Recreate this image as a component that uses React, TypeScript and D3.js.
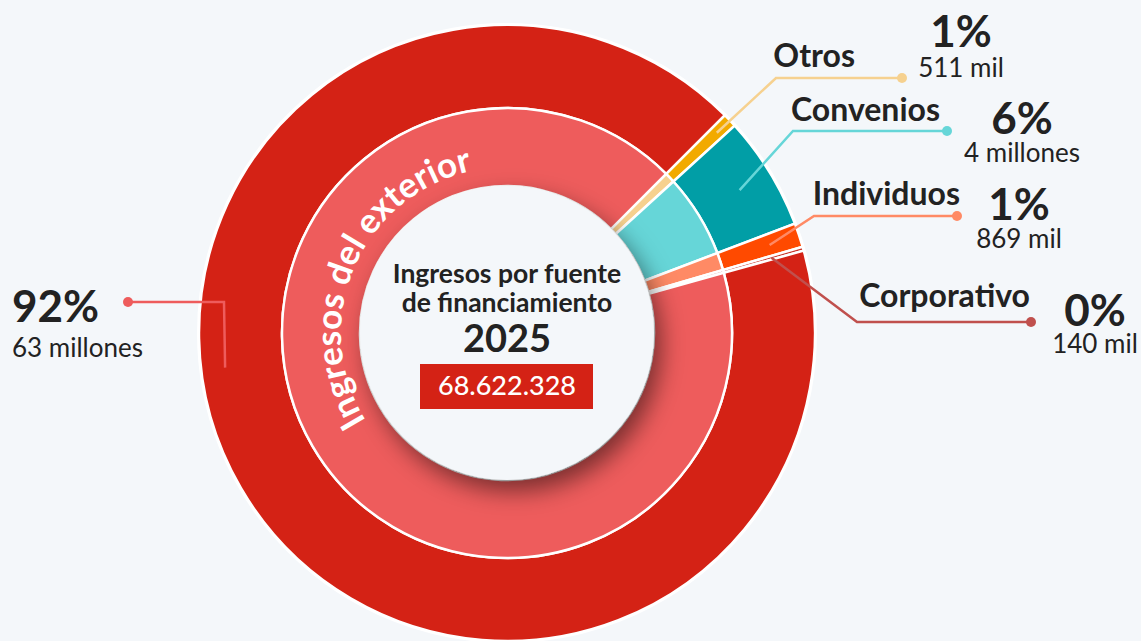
import React from 'react';
import * as d3 from 'd3';

// Datos: ingresos por fuente de financiamiento 2025
const fuentes = ['Otros', 'Convenios', 'Individuos', 'Corporativo', 'Ingresos del exterior'];
const montos = [511000, 4100000, 869000, 140000, 63002328];
const montosTexto = ['511 mil', '4 millones', '869 mil', '140 mil', '63 millones'];
const coloresExterno = ['#f2aa00', '#019ea6', '#ff4a00', '#c9352a', '#d42215'];
const coloresInterno = ['#f6d18f', '#66d6d8', '#ff8a65', '#c0504d', '#ee5c5c'];
const tituloLineas = ['Ingresos por fuente', 'de financiamiento'];
const anio = '2025';
const totalTexto = '68.622.328';

const W = 1141;
const H = 641;
const cx = 507;
const cy = 333;
const rOuter = 308;
const rMid = 225;
const rInner = 147;
const bg = '#f4f7fa';
const ink = '#222';
const font = 'Lato, "Noto Sans", sans-serif';
const deg = Math.PI / 180;

// posiciones de las etiquetas (en el mismo orden que fuentes)
const layout = [
    { anchorR: 290, bendX: 776, lineY: 78, dotX: 902, nameX: 855, nameY: 67, valX: 961, pctY: 47, valY: 77, align: 'middle' },
    { anchorR: 273, bendX: 793, lineY: 131, dotX: 947, nameX: 940, nameY: 121, valX: 1022, pctY: 134, valY: 162, align: 'middle' },
    { anchorR: 277, bendX: 814, lineY: 216, dotX: 957, nameX: 960, nameY: 205, valX: 1019, pctY: 220, valY: 248, align: 'middle' },
    { anchorR: 275, bendX: 857, lineY: 322, dotX: 1031, nameX: 1030, nameY: 307, valX: 1095, pctY: 326, valY: 353, align: 'middle' },
    { anchorR: 284, anchorAngle: 263, bendX: 224, lineY: 302, dotX: 128, nameX: 0, nameY: 0, valX: 12, pctY: 322, valY: 357, align: 'start' },
];

const polar = (angleRad: number, r: number): [number, number] => [
    cx + r * Math.sin(angleRad),
    cy - r * Math.cos(angleRad),
];

const App = () => {
    const total = d3.sum(montos);
    const start = 45 * deg;
    const pie = d3.pie<number>().sort(null).startAngle(start).endAngle(start + 2 * Math.PI);
    const arcs = pie(montos);

    const arcOuter = d3.arc<d3.PieArcDatum<number>>().innerRadius(rMid).outerRadius(rOuter);
    const arcInnerRing = d3.arc<d3.PieArcDatum<number>>().innerRadius(rInner).outerRadius(rMid);

    // trayecto del texto curvo
    const rText = 166;
    const a0 = 210 * deg;
    const a1 = 376 * deg;
    const [tx0, ty0] = polar(a0, rText);
    const [tx1, ty1] = polar(a1, rText);
    const textArc = `M${tx0},${ty0} A${rText},${rText} 0 0 1 ${tx1},${ty1}`;

    return (
        <svg width={W} height={H} style={{ position: 'fixed', left: 0, top: 0 }} fontFamily={font}>
            <defs>
                <filter id="sombra" x="-50%" y="-50%" width="200%" height="200%">
                    <feDropShadow dx="7" dy="11" stdDeviation="12" floodColor="#000" floodOpacity="0.5" />
                </filter>
                <path id="arcoTexto" d={textArc} />
            </defs>
            <rect width={W} height={H} fill={bg} />

            <g transform={`translate(${cx},${cy})`}>
                {arcs.map((d, i) => (
                    <path key={'o' + i} d={arcOuter(d) || ''} fill={coloresExterno[i]} stroke="#fff" strokeWidth={2.5} />
                ))}
                {arcs.map((d, i) => (
                    <path key={'i' + i} d={arcInnerRing(d) || ''} fill={coloresInterno[i]} stroke="#fff" strokeWidth={2.5} />
                ))}
                <circle r={rOuter + 1} fill="none" stroke="#fff" strokeWidth={2} />
                <circle r={rInner} fill={bg} filter="url(#sombra)" />
            </g>

            <text fill="#fff" fontSize={35} fontWeight={700}>
                <textPath href="#arcoTexto" startOffset="50%" textAnchor="middle">
                    {fuentes[4]}
                </textPath>
            </text>

            {/* texto central */}
            <g fill={ink} textAnchor="middle">
                {tituloLineas.map((t, i) => (
                    <text key={t} x={cx} y={283 + i * 29} fontSize={26.5} fontWeight={700}>
                        {t}
                    </text>
                ))}
                <text x={cx} y={352} fontSize={38} fontWeight={700}>{anio}</text>
            </g>
            <rect x={420} y={364} width={173} height={45} fill={coloresExterno[4]} />
            <text x={cx} y={395} textAnchor="middle" fill="#fff" fontSize={27} fontWeight={500}>
                {totalTexto}
            </text>

            {/* lineas guia y etiquetas */}
            {arcs.map((d, i) => {
                const L = layout[i];
                const ang = L.anchorAngle !== undefined ? L.anchorAngle * deg : (d.startAngle + d.endAngle) / 2;
                const [sx, sy] = polar(ang, L.anchorR);
                const color = coloresInterno[i];
                const pts = `${sx},${sy} ${L.bendX},${L.lineY} ${L.dotX},${L.lineY}`;
                const pct = Math.round((montos[i] / total) * 100) + '%';
                return (
                    <g key={'l' + i}>
                        <polyline points={pts} fill="none" stroke={color} strokeWidth={2.5} />
                        <circle cx={L.dotX} cy={L.lineY} r={5} fill={color} />
                        {L.align !== 'start' && (
                            <text x={L.nameX} y={L.nameY} textAnchor="end" fontSize={32} fontWeight={700} fill={ink}>
                                {fuentes[i]}
                            </text>
                        )}
                        <text x={L.valX} y={L.pctY} textAnchor={L.align} fontSize={44} fontWeight={700} fill={ink}>
                            {pct}
                        </text>
                        <text x={L.valX} y={L.valY} textAnchor={L.align} fontSize={26} fill={ink}>
                            {montosTexto[i]}
                        </text>
                    </g>
                );
            })}
        </svg>
    );
};

export default App;
